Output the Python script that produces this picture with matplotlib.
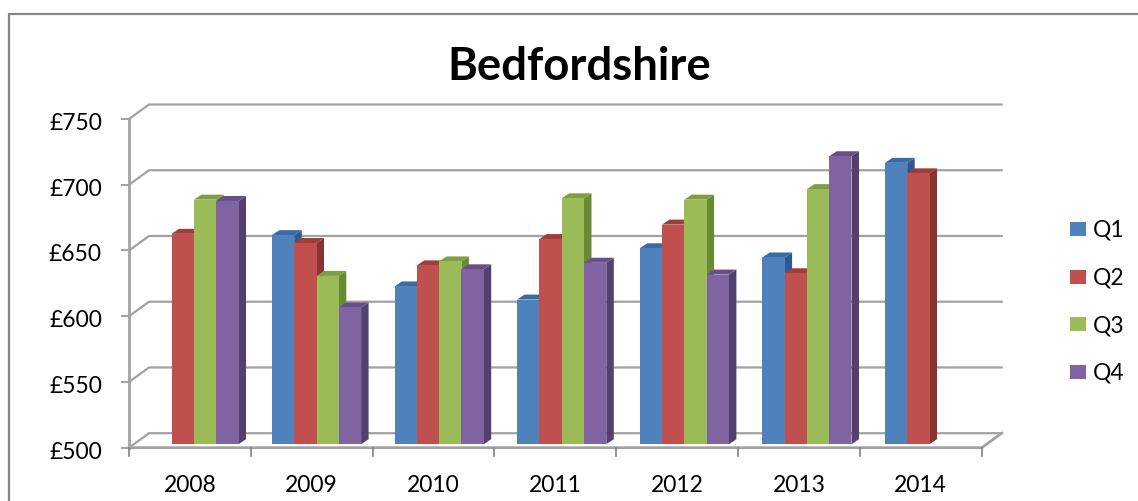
import numpy as np
import matplotlib
matplotlib.use('Agg')
import matplotlib.pyplot as plt
from matplotlib.transforms import ScaledTranslation

plt.rcParams['font.family'] = ['Lato', 'DejaVu Sans']

years = ['2008', '2009', '2010', '2011', '2012', '2013', '2014']
q1 = [np.nan, 659, 620, 610, 649, 642, 714]
q2 = [660, 653, 636, 656, 667, 630, 706]
q3 = [686, 628, 639, 687, 686, 694, np.nan]
q4 = [685, 604, 633, 638, 629, 719, np.nan]
series = [q1, q2, q3, q4]
names = ['Q1', 'Q2', 'Q3', 'Q4']
yticks = [500, 550, 600, 650, 700, 750]
ylabels = ['£500', '£550', '£600', '£650', '£700', '£750']

front = ['#4f81bd', '#c0504d', '#9bbb59', '#8064a2']
side = ['#2f5a8f', '#8a3230', '#6c8a35', '#54406f']
top = ['#3c6ba3', '#a03c3a', '#7f9e42', '#67508a']

W, H = 1138, 501
fig = plt.figure(figsize=(W/100, H/100), dpi=100)
# front plane of the 3d box, in pixels
left, right, ytop, ybot = 129, 981.7, 119, 447.7
ax = fig.add_axes([left/W, 1-ybot/H, (right-left)/W, (ybot-ytop)/H])
ax.set_xlim(0, 7)
ax.set_ylim(500, 750)
ax.patch.set_alpha(0)
for s in ax.spines.values():
    s.set_visible(False)

px = 7/(right-left)
py = 250/(ybot-ytop)
wall_dx, wall_dy = 20*px, 14.5*py   # depth of the box
bar_dx, bar_dy = 7.5*px, 5*py       # depth of a column
lift = 3.5*py                       # columns stand a bit inside the floor
bw = 22.3*px
# columns are spread a little wider than the axis ticks (perspective)
group_start = 20.3*px
group_step = 122.6*px
grey = '#a2a2a2'

# walls
for v in yticks:
    ax.plot([0, wall_dx, 7+wall_dx], [v, v+wall_dy, v+wall_dy], color=grey, lw=1.6,
            clip_on=False, zorder=1, solid_joinstyle='miter')
    ax.plot([-7*px, 0], [v, v], color=grey, lw=1.4, clip_on=False, zorder=1)
ax.plot([0, 0], [500, 750], color=grey, lw=2, clip_on=False, zorder=1)
ax.plot([0, 7, 7+wall_dx], [500, 500, 500+wall_dy], color=grey, lw=2, clip_on=False, zorder=1)
for i in range(8):
    ax.plot([i, i], [500, 500-8*py], color='#808080', lw=1.2, clip_on=False, zorder=1)

# columns
base = 500 + lift
for j, vals in enumerate(series):
    for i, v in enumerate(vals):
        if np.isnan(v):
            continue
        x0 = group_start + i*group_step + j*bw
        x1 = x0 + bw
        h = v + lift
        z = 3 + i*4 + j*0.1
        ax.bar(x0, h-base, width=bw, bottom=base, align='edge', color=front[j], zorder=z+0.2, clip_on=False)
        ax.fill([x1, x1+bar_dx, x1+bar_dx, x1], [base, base+bar_dy, h+bar_dy, h],
                color=side[j], lw=0, zorder=z, clip_on=False)
        ax.fill([x0, x0+bar_dx, x1+bar_dx, x1], [h, h+bar_dy, h+bar_dy, h],
                color=top[j], lw=0, zorder=z, clip_on=False)

ax.set_xticks(np.arange(7)+0.5)
ax.set_xticklabels(years, fontsize=16.5, color='black')
ax.set_yticks(yticks)
ax.set_yticklabels(ylabels, fontsize=16.5, color='black')
ax.tick_params(axis='both', length=0)
ax.tick_params(axis='x', pad=20)
ax.tick_params(axis='y', pad=19.5)
# y labels sit slightly under their ticks
shift = ScaledTranslation(0, -2.5/100, fig.dpi_scale_trans)
for lbl in ax.get_yticklabels():
    lbl.set_transform(lbl.get_transform() + shift)

fig.text(579.5/W, 1-67/H, 'Bedfordshire', fontsize=32.8, fontweight='bold', ha='center', va='center')

# legend
for j, n in enumerate(names):
    ly = 229 + j*47.5
    fig.patches.append(plt.Rectangle((1070/W, 1-(ly+7)/H), 16/W, 14/H, transform=fig.transFigure,
                                     color=front[j], lw=0))
    fig.text(1093/W, 1-(ly+1.5)/H, n, fontsize=16.5, va='center', ha='left')

# chart border, right side is cut off in the source
fig.add_artist(plt.Line2D([9/W, 9/W, 1], [0, 1-14/H, 1-14/H], color='#868686', lw=1.6))

fig.savefig('out.png', dpi=100)
